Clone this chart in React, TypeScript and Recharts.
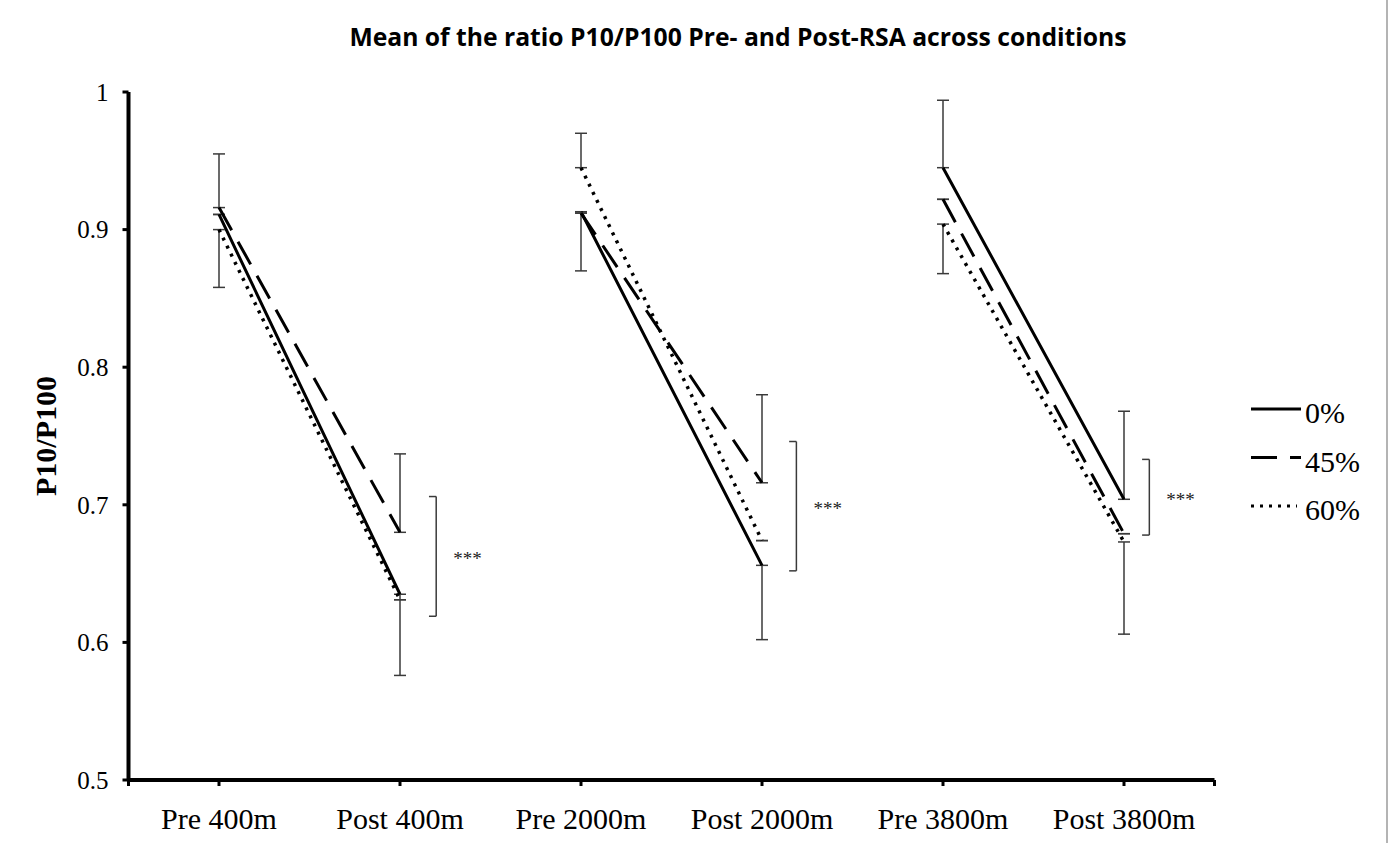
import {
  ErrorBar,
  Label,
  Legend,
  Line,
  LineChart,
  ReferenceDot,
  ReferenceLine,
  XAxis,
  YAxis,
} from 'recharts';

const categories = ['Pre 400m', 'Post 400m', 'Pre 2000m', 'Post 2000m', 'Pre 3800m', 'Post 3800m'];

// means per condition
const mean0 = [0.911, 0.635, 0.913, 0.656, 0.945, 0.704];
const mean45 = [0.916, 0.68, 0.912, 0.716, 0.922, 0.679];
const mean60 = [0.9, 0.631, 0.945, 0.674, 0.904, 0.673];

// one-sided error bars (minus / plus)
const minus0 = [0, 0.059, 0.043, 0.054, 0, 0];
const plus0 = [0, 0, 0, 0, 0.049, 0.064];
const minus45 = [0, 0, 0, 0, 0, 0];
const plus45 = [0.039, 0.057, 0, 0.064, 0, 0];
const minus60 = [0.042, 0, 0, 0, 0.036, 0.067];
const plus60 = [0, 0, 0.025, 0, 0, 0];

const yTicks = [0.5, 0.6, 0.7, 0.8, 0.9, 1];

// significance brackets between pre and post, x in category units
const brackets = [
  { x: 1.2, top: 0.706, bottom: 0.619 },
  { x: 3.19, top: 0.746, bottom: 0.652 },
  { x: 5.14, top: 0.733, bottom: 0.678 },
];
const bracketArm = 0.04;

const SERIF = "'Liberation Serif', 'Times New Roman', serif";
const INK = '#000';
const BAR = '#3a3a3a';

const series = [
  { key: 's0', name: '0%', means: mean0, minus: minus0, plus: plus0, dash: undefined, width: 3, legendEnd: 56 },
  { key: 's45', name: '45%', means: mean45, minus: minus45, plus: plus45, dash: '26 13', width: 3, legendEnd: 56 },
  { key: 's60', name: '60%', means: mean60, minus: minus60, plus: plus60, dash: '3 6', width: 3.5, legendEnd: 52 },
];

// pre/post pairs only; a null row between pairs breaks the lines
const rows: Record<string, unknown>[] = [];
categories.forEach((_, i) => {
  if (i > 0 && i % 2 === 0) {
    const gap: Record<string, unknown> = { x: i - 0.5 };
    series.forEach(s => (gap[s.key] = null));
    rows.push(gap);
  }
  const row: Record<string, unknown> = { x: i };
  series.forEach(s => {
    row[s.key] = s.means[i];
    row[s.key + 'Err'] = [s.minus[i], s.plus[i]];
  });
  rows.push(row);
});

const Stars = (props: any) => (
  <text x={props.cx + 17} y={props.cy + 9} style={{ fontFamily: SERIF }} fontSize={19} fill="#222">
    ***
  </text>
);

const renderLegend = () => (
  <svg width={130} height={135} style={{ overflow: 'visible' }}>
    {series.map((s, i) => (
      <g key={s.key}>
        <line
          x1={6}
          x2={s.legendEnd}
          y1={14 + i * 48.5}
          y2={14 + i * 48.5}
          stroke={INK}
          strokeWidth={3}
          strokeDasharray={s.dash}
        />
        <text x={60} y={28 + i * 48.5} fontFamily="Liberation Serif" fontSize={30} fill={INK}>
          {s.name}
        </text>
      </g>
    ))}
  </svg>
);

const yTitle = (props: any) => {
  const { viewBox } = props;
  const cx = viewBox.x - 3;
  const cy = viewBox.y + viewBox.height / 2;
  return (
    <text
      x={cx}
      y={cy}
      transform={`rotate(-90 ${cx} ${cy})`}
      textAnchor="middle"
      dominantBaseline="central"
      style={{ fontFamily: SERIF, fontWeight: 'bold', fontSize: 30 }}
      fill={INK}
    >
      P10/P100
    </text>
  );
};

export default function App() {
  return (
    <div style={{ position: 'absolute', left: 0, top: 0, width: 1395, height: 843, background: '#fff' }}>
      <svg width={1395} height={60} style={{ position: 'absolute', left: 0, top: 0 }}>
        <text
          x={738}
          y={46}
          textAnchor="middle"
          style={{ fontFamily: "'Open Sans', Lato, sans-serif", fontWeight: 'bold', fontSize: 24.7 }}
          fill={INK}
        >
          Mean of the ratio P10/P100 Pre- and Post-RSA across conditions
        </text>
      </svg>
      <div style={{ position: 'absolute', left: 1386, top: 0, width: 2, height: 843, background: '#b4b4b4' }} />
      <LineChart
        width={1395}
        height={843}
        data={rows}
        margin={{ top: 92, right: 180.5, bottom: 13, left: 48.5 }}
      >
        <XAxis
          dataKey="x"
          type="number"
          domain={[-0.5, 5.5]}
          ticks={[-0.5, 0, 1, 2, 3, 4, 5, 5.5]}
          tickFormatter={(v: number) => (Number.isInteger(v) ? categories[v] : '')}
          height={50}
          axisLine={{ stroke: INK, strokeWidth: 4 }}
          tickLine={{ stroke: INK, strokeWidth: 3 }}
          tickSize={6}
          tickMargin={22}
          fontSize={30}
          fontFamily={SERIF}
          tick={{ fontFamily: SERIF, fontSize: 30, fill: INK }}
          interval={0}
        />
        <YAxis
          type="number"
          domain={[0.5, 1]}
          ticks={yTicks}
          width={80}
          axisLine={{ stroke: INK, strokeWidth: 4 }}
          tickLine={{ stroke: INK, strokeWidth: 3 }}
          tickSize={6}
          tickMargin={14}
          fontSize={25}
          fontFamily={SERIF}
          tick={{ fontFamily: SERIF, fontSize: 25, fill: INK }}
          interval={0}
        >
          <Label content={yTitle} />
        </YAxis>
        <Legend
          content={renderLegend}
          wrapperStyle={{ position: 'absolute', left: 1245, top: 395, width: 0, height: 0, overflow: 'visible' }}
        />
        {series.map(s => (
          <Line
            key={s.key}
            dataKey={s.key}
            name={s.name}
            type="linear"
            stroke={INK}
            strokeWidth={s.width}
            strokeDasharray={s.dash}
            dot={false}
            activeDot={false}
            connectNulls={false}
            isAnimationActive={false}
          >
            <ErrorBar
              dataKey={s.key + 'Err'}
              width={6}
              stroke={BAR}
              strokeWidth={1.5}
              isAnimationActive={false}
            />
          </Line>
        ))}
        {brackets.map((b, i) => (
          <ReferenceLine
            key={`v${i}`}
            segment={[
              { x: b.x, y: b.top },
              { x: b.x, y: b.bottom },
            ]}
            stroke={BAR}
            strokeWidth={1.5}
            ifOverflow="visible"
          />
        ))}
        {brackets.map((b, i) => (
          <ReferenceLine
            key={`t${i}`}
            segment={[
              { x: b.x - bracketArm, y: b.top },
              { x: b.x, y: b.top },
            ]}
            stroke={BAR}
            strokeWidth={1.5}
            ifOverflow="visible"
          />
        ))}
        {brackets.map((b, i) => (
          <ReferenceLine
            key={`b${i}`}
            segment={[
              { x: b.x - bracketArm, y: b.bottom },
              { x: b.x, y: b.bottom },
            ]}
            stroke={BAR}
            strokeWidth={1.5}
            ifOverflow="visible"
          />
        ))}
        {brackets.map((b, i) => (
          <ReferenceDot
            key={`s${i}`}
            x={b.x}
            y={(b.top + b.bottom) / 2}
            r={0}
            shape={Stars}
            ifOverflow="visible"
          />
        ))}
      </LineChart>
    </div>
  );
}
